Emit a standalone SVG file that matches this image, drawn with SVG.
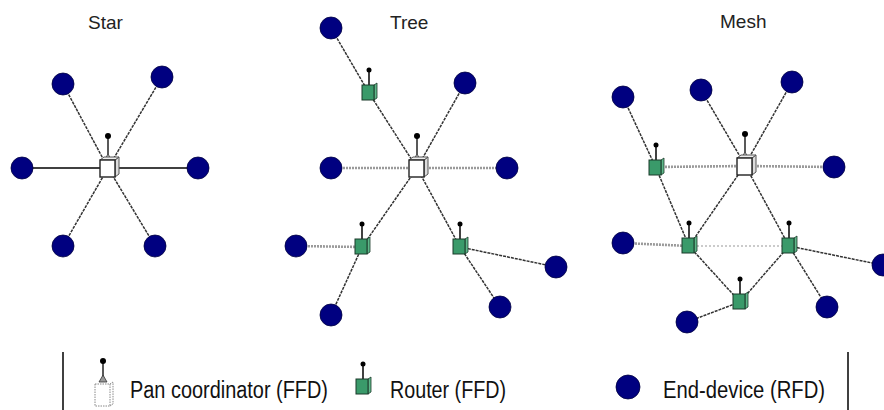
<svg xmlns="http://www.w3.org/2000/svg" xmlns:xlink="http://www.w3.org/1999/xlink" width="884" height="410" viewBox="0 0 884 410">
<style>
.title{font-family:"Liberation Sans",Arial,sans-serif;font-size:19px;fill:#222}
.leg{font-family:"Liberation Sans",Arial,sans-serif;font-size:23px;fill:#111}
.ed{fill:#000080;stroke:#000040;stroke-width:0.8}
.ln{stroke:#333;stroke-width:1.5;stroke-dasharray:3 1;fill:none}
.hl{stroke:#9a9a9a;stroke-width:2.6;stroke-dasharray:2 1;fill:none}
.sl{stroke:#000;stroke-width:1.6;fill:none}
.dl{stroke:#bbb;stroke-width:1.4;stroke-dasharray:2 2;fill:none}
.vb{stroke:#000;stroke-width:1.5}
</style>
<defs>
<symbol id="pan" overflow="visible">
<line x1="0" y1="-10" x2="0" y2="-30" stroke="#222" stroke-width="1.5"/>
<path d="M-3 -9 L0 -14 L3 -9 Z" fill="#bbb" stroke="#444" stroke-width="0.8"/>
<circle cx="0" cy="-32" r="3" fill="#000"/>
<path d="M7 -8 L11 -11 L11 6 L7 9 Z" fill="#ddd" stroke="#555" stroke-width="1"/>
<path d="M-8 -8 L-4 -11 L11 -11 L7 -8 Z" fill="#eee" stroke="#555" stroke-width="1"/>
<rect x="-8" y="-8" width="15" height="17" fill="#fff" stroke="#222" stroke-width="1.4"/>
</symbol>
<symbol id="router" overflow="visible">
<line x1="0" y1="-8" x2="0" y2="-22" stroke="#111" stroke-width="1.6"/>
<circle cx="0" cy="-23" r="2.5" fill="#000"/>
<path d="M5 -8 L8 -10 L8 5 L5 7 Z" fill="#5fb88a" stroke="#1a3a2a" stroke-width="0.8"/>
<rect x="-7" y="-8" width="12" height="15" fill="#3a9a6a" stroke="#1a3a2a" stroke-width="1"/>
</symbol>
</defs>

<g id="titles">
<text class="title" x="88" y="29">Star</text>
<text class="title" x="390" y="29">Tree</text>
<text class="title" x="720" y="28">Mesh</text>
</g>

<g id="connectors">
<!-- star -->
<line class="ln" x1="63" y1="84" x2="108" y2="168"/>
<line class="ln" x1="162" y1="77" x2="108" y2="168"/>
<line class="sl" x1="22" y1="168" x2="108" y2="168"/>
<line class="sl" x1="108" y1="168" x2="198" y2="168"/>
<line class="ln" x1="63" y1="246" x2="108" y2="168"/>
<line class="ln" x1="155" y1="246" x2="108" y2="168"/>
<!-- tree -->
<line class="ln" x1="331" y1="28" x2="369" y2="93"/>
<line class="ln" x1="369" y1="93" x2="417" y2="168"/>
<line class="ln" x1="465" y1="83" x2="417" y2="168"/>
<line class="hl" x1="331" y1="168" x2="417" y2="168"/>
<line class="hl" x1="417" y1="168" x2="507" y2="168"/>
<line class="ln" x1="417" y1="168" x2="362" y2="247"/>
<line class="ln" x1="417" y1="168" x2="460" y2="247"/>
<line class="hl" x1="296" y1="246" x2="362" y2="247"/>
<line class="ln" x1="362" y1="247" x2="331" y2="315"/>
<line class="ln" x1="460" y1="247" x2="556" y2="267"/>
<line class="ln" x1="460" y1="247" x2="500" y2="307"/>
<!-- mesh -->
<line class="ln" x1="623" y1="97" x2="656" y2="168"/>
<line class="hl" x1="656" y1="167" x2="745" y2="166"/>
<line class="hl" x1="745" y1="166" x2="834" y2="167"/>
<line class="ln" x1="701" y1="90" x2="745" y2="165"/>
<line class="ln" x1="792" y1="82" x2="745" y2="165"/>
<line class="ln" x1="656" y1="168" x2="689" y2="246"/>
<line class="ln" x1="745" y1="165" x2="689" y2="246"/>
<line class="ln" x1="745" y1="165" x2="789" y2="246"/>
<line class="hl" x1="623" y1="243" x2="689" y2="246"/>
<line class="dl" x1="689" y1="246" x2="789" y2="246"/>
<line class="ln" x1="689" y1="246" x2="740" y2="302"/>
<line class="ln" x1="789" y1="246" x2="740" y2="302"/>
<line class="ln" x1="789" y1="246" x2="882" y2="265"/>
<line class="ln" x1="789" y1="246" x2="827" y2="307"/>
<line class="ln" x1="740" y1="302" x2="687" y2="322"/>
</g>

<g id="star">
<g id="star-pan"><use href="#pan" x="108" y="168"/></g>
<g id="star-ed1"><circle class="ed" cx="63" cy="84" r="11"/></g>
<g id="star-ed2"><circle class="ed" cx="162" cy="77" r="11"/></g>
<g id="star-ed3"><circle class="ed" cx="22" cy="168" r="11"/></g>
<g id="star-ed4"><circle class="ed" cx="198" cy="168" r="11"/></g>
<g id="star-ed5"><circle class="ed" cx="63" cy="246" r="11"/></g>
<g id="star-ed6"><circle class="ed" cx="155" cy="246" r="11"/></g>
</g>

<g id="tree">
<g id="tree-pan"><use href="#pan" x="417" y="168"/></g>
<g id="tree-r1"><use href="#router" x="369" y="93"/></g>
<g id="tree-r2"><use href="#router" x="362" y="247"/></g>
<g id="tree-r3"><use href="#router" x="460" y="247"/></g>
<g id="tree-ed1"><circle class="ed" cx="331" cy="28" r="11"/></g>
<g id="tree-ed2"><circle class="ed" cx="465" cy="83" r="11"/></g>
<g id="tree-ed3"><circle class="ed" cx="331" cy="168" r="11"/></g>
<g id="tree-ed4"><circle class="ed" cx="507" cy="168" r="11"/></g>
<g id="tree-ed5"><circle class="ed" cx="296" cy="246" r="11"/></g>
<g id="tree-ed6"><circle class="ed" cx="556" cy="267" r="11"/></g>
<g id="tree-ed7"><circle class="ed" cx="331" cy="315" r="11"/></g>
<g id="tree-ed8"><circle class="ed" cx="500" cy="307" r="11"/></g>
</g>

<g id="mesh">
<g id="mesh-pan"><use href="#pan" x="745" y="166"/></g>
<g id="mesh-r1"><use href="#router" x="656" y="168"/></g>
<g id="mesh-r2"><use href="#router" x="689" y="246"/></g>
<g id="mesh-r3"><use href="#router" x="789" y="246"/></g>
<g id="mesh-r4"><use href="#router" x="740" y="302"/></g>
<g id="mesh-ed1"><circle class="ed" cx="623" cy="97" r="11"/></g>
<g id="mesh-ed2"><circle class="ed" cx="701" cy="90" r="11"/></g>
<g id="mesh-ed3"><circle class="ed" cx="792" cy="82" r="11"/></g>
<g id="mesh-ed4"><circle class="ed" cx="834" cy="167" r="11"/></g>
<g id="mesh-ed5"><circle class="ed" cx="623" cy="243" r="11"/></g>
<g id="mesh-ed6"><circle class="ed" cx="883" cy="265" r="11"/></g>
<g id="mesh-ed7"><circle class="ed" cx="827" cy="307" r="11"/></g>
<g id="mesh-ed8"><circle class="ed" cx="687" cy="322" r="11"/></g>
</g>

<g id="legend">
<line class="vb" x1="63" y1="352" x2="63" y2="410"/>
<line class="vb" x1="848" y1="352" x2="848" y2="410"/>
<g id="legend-pan">
<line x1="103" y1="362" x2="103" y2="380" stroke="#222" stroke-width="1.5"/>
<circle cx="103" cy="361" r="3" fill="#000"/>
<path d="M99 382 L103 375 L107 382 Z" fill="#999" stroke="#333" stroke-width="0.8"/>
<rect x="95" y="384" width="15" height="22" fill="#fff" stroke="#888" stroke-width="1" stroke-dasharray="1.5 1"/>
<path d="M110 384 L113 382 L113 404 L110 406" fill="none" stroke="#888" stroke-width="1" stroke-dasharray="1.5 1"/>
<text class="leg" x="130" y="398" textLength="198" lengthAdjust="spacingAndGlyphs">Pan coordinator (FFD)</text>
</g>
<g id="legend-router">
<use href="#router" x="363" y="387"/>
<text class="leg" x="390" y="398" textLength="116" lengthAdjust="spacingAndGlyphs">Router (FFD)</text>
</g>
<g id="legend-ed">
<circle class="ed" cx="628" cy="387" r="12"/>
<text class="leg" x="663" y="398" textLength="162" lengthAdjust="spacingAndGlyphs">End-device (RFD)</text>
</g>
</g>
</svg>
